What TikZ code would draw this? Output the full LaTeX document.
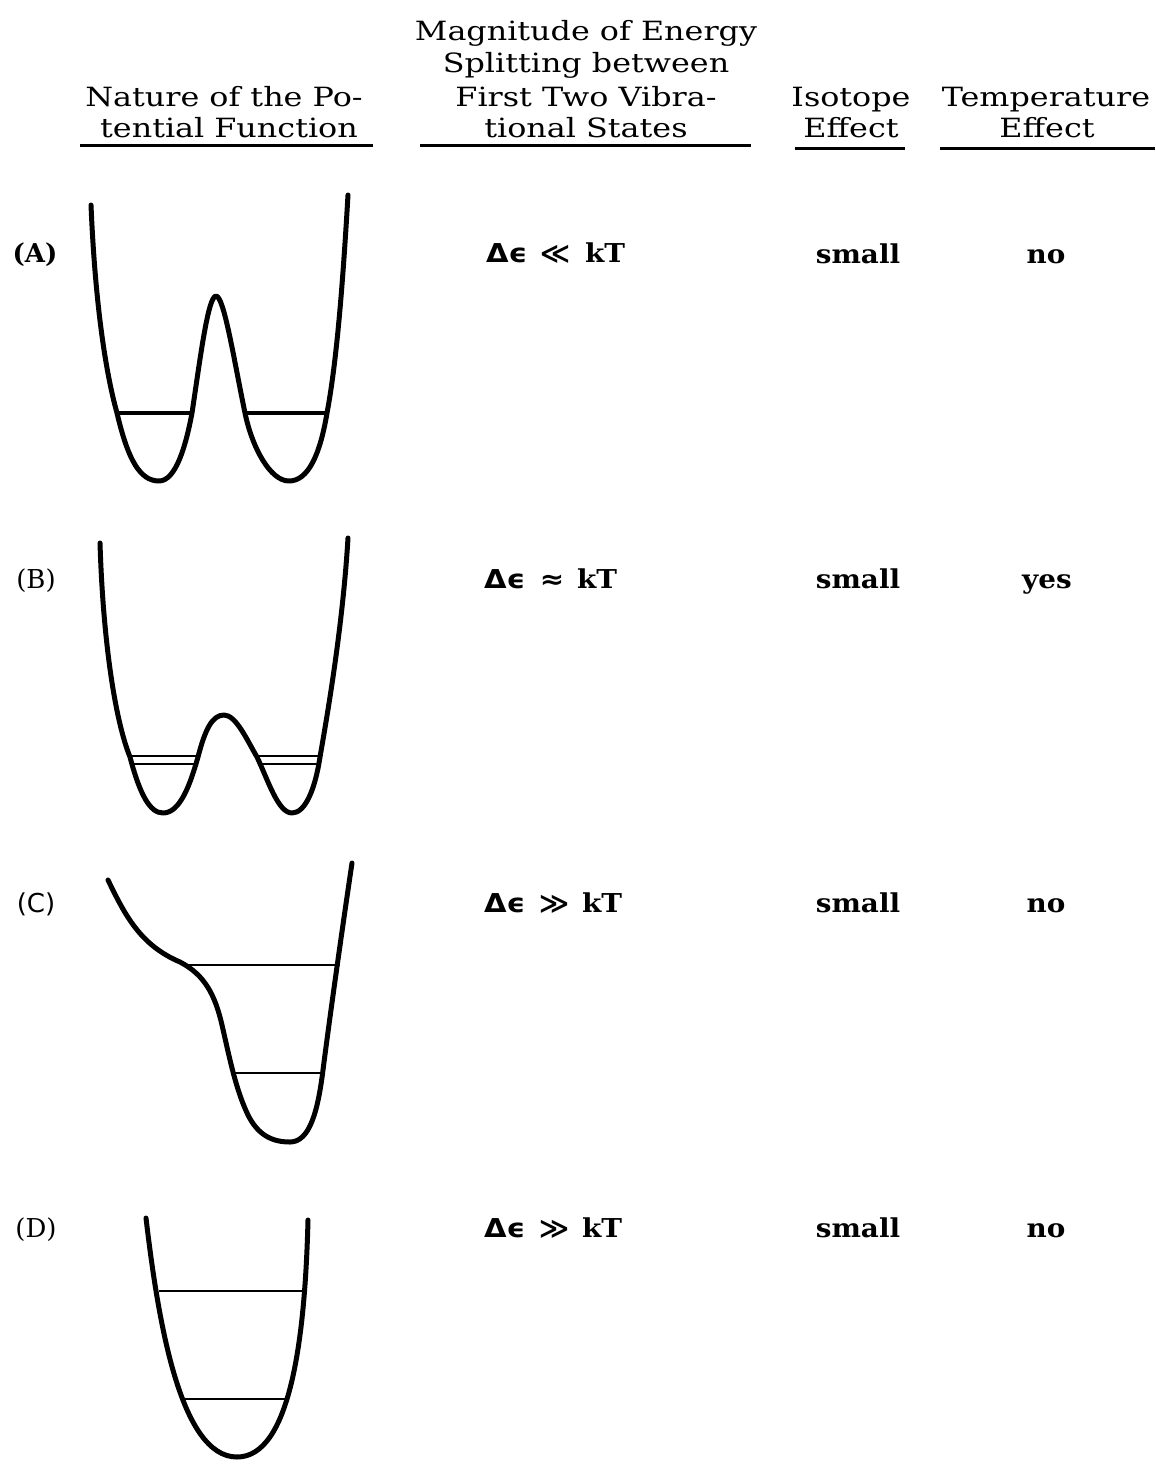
\documentclass[tikz,border=0pt]{standalone}
\usepackage{fontspec}
\setmainfont{DejaVu Serif}
\newfontfamily\headfont[FakeStretch=1.2]{DejaVu Serif}
\newfontfamily\cellfont[FakeStretch=1.07]{DejaVu Serif}
\newfontfamily\symfont[FakeStretch=1.12]{DejaVu Sans}
\newfontfamily\labelsans{DejaVu Sans}
\begin{document}
\begin{tikzpicture}[x=1pt,y=-1pt,
  head/.style={font=\fontsize{26.5}{30}\selectfont\headfont, inner sep=0pt, anchor=base},
  cell/.style={font=\fontsize{26}{30}\selectfont\cellfont\bfseries, inner sep=0pt, anchor=base},
  sym/.style={font=\fontsize{26}{30}\selectfont\symfont\bfseries, inner sep=0pt, anchor=base},
  rowlabel/.style={font=\fontsize{26}{30}\selectfont, inner sep=0pt, anchor=base},
  rulebar/.style={line width=3pt},
  wall/.style={line width=5pt, line cap=round, line join=round},
  level/.style={line width=1.8pt},
  thicklevel/.style={line width=4pt}]
\useasboundingbox (0,0) rectangle (1156,1467);

% ---------- column headings ----------
\node[head] (h1a) at (224,106) {Nature of the Po-};
\node[head] (h1b) at (229,137) {tential Function};
\node[head] (h2a) at (586,40)  {Magnitude of Energy};
\node[head] (h2b) at (586,72)  {Splitting between};
\node[head] (h2c) at (586,106) {First Two Vibra-};
\node[head] (h2d) at (586,137) {tional States};
\node[head] (h3a) at (851,106) {Isotope};
\node[head] (h3b) at (851,137) {Effect};
\node[head] (h4a) at (1046,106) {Temperature};
\node[head] (h4b) at (1047,137) {Effect};
\draw[rulebar] (80,145) -- (373,145);
\draw[rulebar] (420,145) -- (751,145);
\draw[rulebar] (795,148) -- (905,148);
\draw[rulebar] (940,148) -- (1155,148);

% ---------- row labels ----------
\node[rowlabel, font=\fontsize{26}{30}\selectfont\bfseries] (la) at (35,262) {(A)};
\node[rowlabel] (lb) at (36,588) {(B)};
\node[rowlabel, font=\fontsize{26}{30}\selectfont\labelsans] (lc) at (36,912) {(C)};
\node[rowlabel] (ld) at (36,1237) {(D)};

% ---------- energy splitting ----------
\node[sym, anchor=base west] (da) at (486,262) {Δϵ};
\node[sym] (ra) at (555,262) {≪};
\node[cell, anchor=base west] (ka) at (585,262) {kT};
\node[sym, anchor=base west] (db) at (484,588) {Δϵ};
\node[sym] (rb) at (552,588) {≈};
\node[cell, anchor=base west] (kb) at (577,588) {kT};
\node[sym, anchor=base west] (dc) at (484,912) {Δϵ};
\node[sym] (rc) at (554,912) {≫};
\node[cell, anchor=base west] (kc) at (582,912) {kT};
\node[sym, anchor=base west] (dd) at (484,1237) {Δϵ};
\node[sym] (rd) at (554,1237) {≫};
\node[cell, anchor=base west] (kd) at (582,1237) {kT};

% ---------- isotope and temperature effects ----------
\node[cell] (ia) at (858,263) {small};
\node[cell] (ib) at (858,588) {small};
\node[cell] (ic) at (858,912) {small};
\node[cell] (id) at (858,1237) {small};
\node[cell] (ta) at (1046,263) {no};
\node[cell] (tb) at (1047,588) {yes};
\node[cell] (tc) at (1046,912) {no};
\node[cell] (td) at (1046,1237) {no};

% ---------- (A) deep symmetric double well ----------
\draw[thicklevel] (117,413) -- (192,413);
\draw[thicklevel] (245,413) -- (327,413);
\draw[wall] (91,205) .. controls (95,300) and (105,370) .. (117,413)
  .. controls (128,460) and (140,481) .. (159,481)
  .. controls (176,481) and (186,445) .. (192,413)
  .. controls (200,360) and (208,296) .. (216,296)
  .. controls (224,296) and (234,360) .. (245,413)
  .. controls (252,447) and (270,481) .. (289,481)
  .. controls (308,481) and (320,455) .. (327,413)
  .. controls (337,360) and (343,280) .. (348,195);

% ---------- (B) shallow double well ----------
\draw[level] (130,756) -- (199,756);
\draw[level] (132,764) -- (197,764);
\draw[level] (257,756) -- (321,756);
\draw[level] (259,764) -- (318,764);
\draw[wall] (100,543) .. controls (103,640) and (115,720) .. (130,757)
  .. controls (140,795) and (150,813) .. (163,813)
  .. controls (180,813) and (190,785) .. (198,757)
  .. controls (205,730) and (212,715) .. (224,715)
  .. controls (236,715) and (247,740) .. (257,757)
  .. controls (268,780) and (278,813) .. (292,813)
  .. controls (305,813) and (315,790) .. (320,757)
  .. controls (330,700) and (343,620) .. (348,538);

% ---------- (C) asymmetric well with a shoulder ----------
\draw[level] (186,965) -- (340,965);
\draw[level] (233,1073) -- (322,1073);
\draw[wall] (108,880) .. controls (125,915) and (140,945) .. (180,962)
  .. controls (205,975) and (215,995) .. (222,1025)
  .. controls (230,1060) and (236,1090) .. (248,1115)
  .. controls (258,1135) and (272,1142) .. (290,1142)
  .. controls (310,1142) and (318,1110) .. (323,1070)
  .. controls (332,1000) and (345,910) .. (352,863);

% ---------- (D) single harmonic well ----------
\draw[level] (159,1291) -- (303,1291);
\draw[level] (183,1399) -- (287,1399);
\draw[wall] (146,1218) .. controls (158,1320) and (180,1457) .. (237,1457)
  .. controls (290,1457) and (305,1340) .. (308,1220);
\end{tikzpicture}
\end{document}
